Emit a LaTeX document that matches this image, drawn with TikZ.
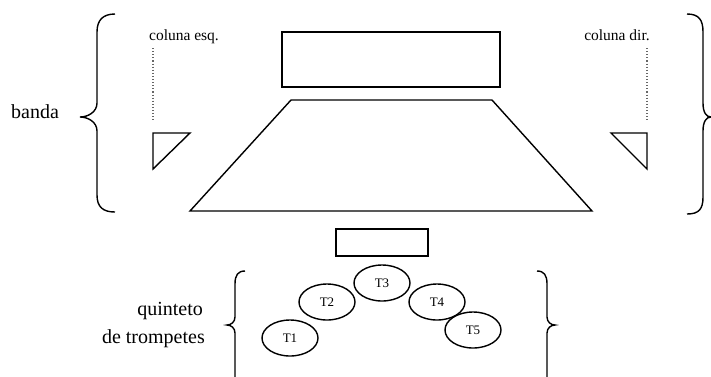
\documentclass[tikz,border=0pt]{standalone}
\usepackage{fontspec}
\setmainfont{Liberation Serif}
\usetikzlibrary{shapes.geometric}
\begin{document}
\begin{tikzpicture}[x=1pt,y=-1pt,
  shp/.style={draw=black,line width=1.4pt,line join=miter},
  brc/.style={draw=black,line width=1.4pt},
  dots/.style={draw=black!60,dotted,line width=1.1pt},
  big/.style={font=\fontsize{20}{24}\selectfont,inner sep=0pt},
  small/.style={font=\fontsize{15.5}{18}\selectfont,inner sep=0pt},
  tp/.style={draw=black,line width=1.4pt,ellipse,minimum width=56pt,minimum height=36pt,inner sep=0pt,font=\fontsize{13}{15}\selectfont}]
\useasboundingbox (0,0) rectangle (711,376);
\clip (0,0) rectangle (711,376);
% labels
\node[big,anchor=base] (banda) at (35,118) {banda};
\node[small,anchor=base] (colesq) at (184,40.5) {coluna esq.};
\node[small,anchor=base] (coldir) at (617,40.5) {coluna dir.};
\node[big,anchor=base east] (quint) at (203,315) {quinteto};
\node[big,anchor=base east] (tromp) at (205,343) {de trompetes};
% top rectangle
\node[shp,minimum width=218pt,minimum height=55pt,inner sep=0pt] (tela) at (391,59.5) {};
% trapezoid
\coordinate (tl) at (291,100);
\coordinate (tr) at (492,100);
\coordinate (br) at (592,211);
\coordinate (bl) at (190,211);
\draw[shp] (tl) -- (tr) -- (br) -- (bl) -- cycle;
% triangles
\coordinate (lt1) at (153,133);
\coordinate (lt2) at (190,133);
\coordinate (lt3) at (153,169);
\draw[shp] (lt1) -- (lt2) -- (lt3) -- cycle;
\coordinate (rt1) at (611,133);
\coordinate (rt2) at (647,133);
\coordinate (rt3) at (647,169);
\draw[shp] (rt1) -- (rt2) -- (rt3) -- cycle;
% dotted lines
\coordinate (dl1) at (153,48);
\coordinate (dl2) at (153,120);
\coordinate (dr1) at (647,48);
\coordinate (dr2) at (647,120);
\draw[dots] (dl1) -- (dl2);
\draw[dots] (dr1) -- (dr2);
% small rectangle
\node[shp,minimum width=92pt,minimum height=27pt,inner sep=0pt] (regente) at (382,242.5) {};
% trumpets
\node[tp] (T1) at (290,338) {T1};
\node[tp] (T2) at (327,302) {T2};
\node[tp] (T3) at (382,283) {T3};
\node[tp] (T4) at (437,302) {T4};
\node[tp] (T5) at (473,330) {T5};
% big braces
\draw[brc] (115,14) .. controls (103,14) and (97,20) .. (97,32) -- (97,103)
  .. controls (97,112) and (88,117) .. (80,117)
  .. controls (88,117) and (97,122) .. (97,131) -- (97,195)
  .. controls (97,207) and (103,212) .. (115,212);
\draw[brc] (687,14) .. controls (699,14) and (703,20) .. (703,32) -- (703,103)
  .. controls (703,112) and (706,117) .. (711,117)
  .. controls (706,117) and (703,122) .. (703,131) -- (703,197)
  .. controls (703,209) and (699,214) .. (687,214);
% small braces
\draw[brc] (245,271) .. controls (238,271) and (235,275) .. (235,284) -- (235,317)
  .. controls (235,322) and (231,325) .. (227,325)
  .. controls (231,325) and (235,328) .. (235,333) -- (235,380);
\draw[brc] (537,271) .. controls (544,271) and (547,275) .. (547,284) -- (547,317)
  .. controls (547,322) and (551,325) .. (555,325)
  .. controls (551,325) and (547,328) .. (547,333) -- (547,380);
\end{tikzpicture}
\end{document}
